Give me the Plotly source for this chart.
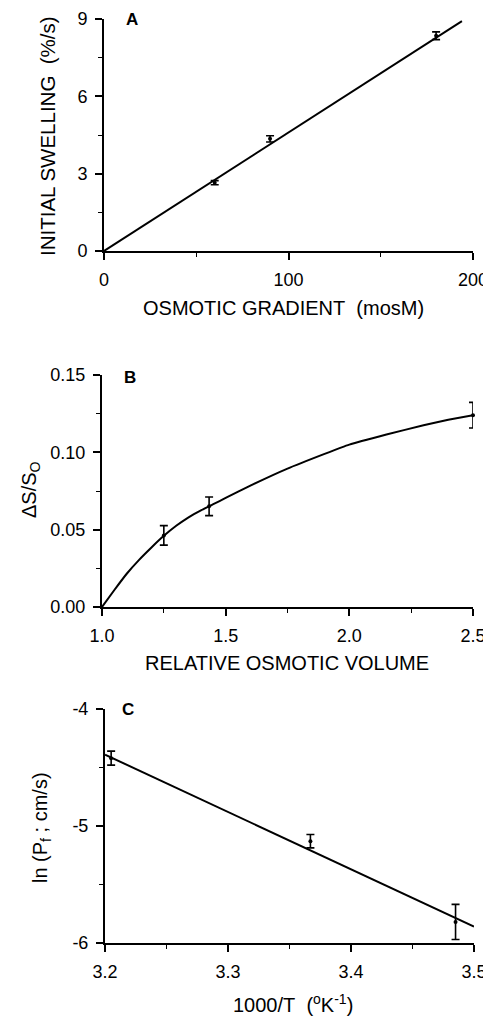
import plotly.graph_objects as go

# ---------------- data ----------------
# Panel A: initial swelling vs osmotic gradient
a_x = [60, 90, 180]
a_y = [2.65, 4.35, 8.35]
a_err = [0.08, 0.12, 0.15]
a_fit_x = [0, 194]
a_fit_y = [0.0, 8.92]

# Panel B: relative change in scatter vs relative osmotic volume
b_x = [1.25, 1.433, 2.5]
b_y = [0.0463, 0.0651, 0.124]
b_err = [0.0063, 0.006, 0.0083]
b_fit_x = [1.0, 1.05, 1.1, 1.15, 1.2, 1.25, 1.3, 1.35, 1.4, 1.45, 1.5, 1.6, 1.75, 1.9, 2.0, 2.15, 2.3, 2.4, 2.5]
b_fit_y = [0.0, 0.011, 0.0215, 0.0305, 0.0385, 0.046, 0.0525, 0.058, 0.0625, 0.0665, 0.0705, 0.0785,
           0.0895, 0.099, 0.105, 0.1115, 0.1175, 0.121, 0.124]

# Panel C: Arrhenius plot
c_x = [3.205, 3.367, 3.485]
c_y = [-4.42, -5.13, -5.82]
c_err = [0.06, 0.057, 0.15]
c_fit_x = [3.2, 3.5]
c_fit_y = [-4.39, -5.86]

a_xticks = [0, 100, 200]
a_yticks = [0, 3, 6, 9]
b_xticks = [1.0, 1.5, 2.0, 2.5]
b_yticks = [0.0, 0.05, 0.10, 0.15]
c_xticks = [3.2, 3.3, 3.4, 3.5]
c_yticks = [-4, -5, -6]
c_yticklabels = ["-4", "-5", "-6"]

# page is 491x1016; the page body adds an 8px margin, so the figure is 8px smaller
OFF = 8
W, H = 491 - OFF, 1016 - OFF
FONT = "Liberation Sans, Arial, Helvetica, sans-serif"


def px_x(x):
    return (x - OFF) / W


def px_y(y):
    return 1 - (y - OFF) / H


fig = go.Figure()

line_style = dict(color="black", width=2)
err_style = lambda e: dict(type="data", array=e, visible=True, color="black", thickness=1.6, width=4)
marker_style = dict(color="black", size=4)

# A
fig.add_trace(go.Scatter(x=a_fit_x, y=a_fit_y, mode="lines", line=line_style, xaxis="x", yaxis="y",
                         cliponaxis=False, showlegend=False))
fig.add_trace(go.Scatter(x=a_x, y=a_y, mode="markers", marker=marker_style, error_y=err_style(a_err),
                         xaxis="x", yaxis="y", cliponaxis=False, showlegend=False))
# B
fig.add_trace(go.Scatter(x=b_fit_x, y=b_fit_y, mode="lines",
                         line=dict(color="black", width=2, shape="spline", smoothing=0.4),
                         xaxis="x2", yaxis="y2", cliponaxis=False, showlegend=False))
fig.add_trace(go.Scatter(x=b_x, y=b_y, mode="markers", marker=marker_style, error_y=err_style(b_err),
                         xaxis="x2", yaxis="y2", cliponaxis=False, showlegend=False))
# C
fig.add_trace(go.Scatter(x=c_fit_x, y=c_fit_y, mode="lines", line=line_style, xaxis="x3", yaxis="y3",
                         cliponaxis=False, showlegend=False))
fig.add_trace(go.Scatter(x=c_x, y=c_y, mode="markers", marker=marker_style, error_y=err_style(c_err),
                         xaxis="x3", yaxis="y3", cliponaxis=False, showlegend=False))


def axis(domain, rng, tickvals, minor_dtick, tickformat=None, ticktext=None, anchor=None, standoff=4):
    d = dict(domain=domain, range=rng, tickvals=tickvals, showgrid=False, zeroline=False,
             showline=True, linecolor="black", linewidth=2, ticks="outside", ticklen=7,
             tickwidth=1.6, tickcolor="black", ticklabelstandoff=standoff,
             ticklabeloverflow="allow",
             tickfont=dict(family=FONT, size=18, color="black"),
             minor=dict(ticks="outside", ticklen=4, tickwidth=1.2, tickcolor="black",
                        dtick=minor_dtick, tick0=rng[0], showgrid=False),
             fixedrange=True, anchor=anchor, automargin=False)
    if tickformat:
        d["tickformat"] = tickformat
    if ticktext:
        d["ticktext"] = ticktext
    return d


fig.update_layout(
    width=W, height=H,
    margin=dict(l=0, r=0, t=0, b=0, pad=0, autoexpand=False),
    paper_bgcolor="white", plot_bgcolor="white",
    font=dict(family=FONT, color="black"),
    xaxis=axis([px_x(104), px_x(473)], [0, 200], a_xticks, 50, anchor="y"),
    yaxis=axis([px_y(251), px_y(19)], [0, 9], a_yticks, 1.5, anchor="x"),
    xaxis2=axis([px_x(102), px_x(473)], [1.0, 2.5], b_xticks, 0.25, tickformat=".1f", anchor="y2"),
    yaxis2=axis([px_y(607), px_y(375)], [0, 0.15], b_yticks, 0.025, tickformat=".2f", anchor="x2"),
    xaxis3=axis([px_x(105), px_x(474)], [3.2, 3.5], c_xticks, 0.05, tickformat=".1f", anchor="y3"),
    yaxis3=axis([px_y(943), px_y(709)], [-6, -4], c_yticks, 0.5, ticktext=c_yticklabels, anchor="x3"),
)

ann = []


def text(x, y, s, size=20, angle=0, bold=False):
    ann.append(dict(x=px_x(x), y=px_y(y), xref="paper", yref="paper", text=s, showarrow=False,
                    textangle=angle, xanchor="center", yanchor="middle",
                    font=dict(family=FONT, size=size, color="black",
                              weight="bold" if bold else "normal")))


# axis titles
text(283.5, 308, "OSMOTIC GRADIENT&nbsp;&nbsp;(mosM)")
text(47, 136, "INITIAL SWELLING&nbsp;&nbsp;(%/s)", size=20.5, angle=-90)
text(287, 663, "RELATIVE OSMOTIC VOLUME")
text(30, 490, "ΔS/S<sub>O</sub>", angle=-90)
text(293, 1003, "1000/T&nbsp;&nbsp;(<sup>o</sup>K<sup>-1</sup>)")
text(41, 828, "ln (P<sub>f</sub> ; cm/s)", angle=-90)
# panel letters
text(132, 20, "A", size=17, bold=True)
text(130, 377, "B", size=17, bold=True)
text(128, 709, "C", size=17, bold=True)

fig.update_layout(annotations=ann)
fig.write_html("out.html")
